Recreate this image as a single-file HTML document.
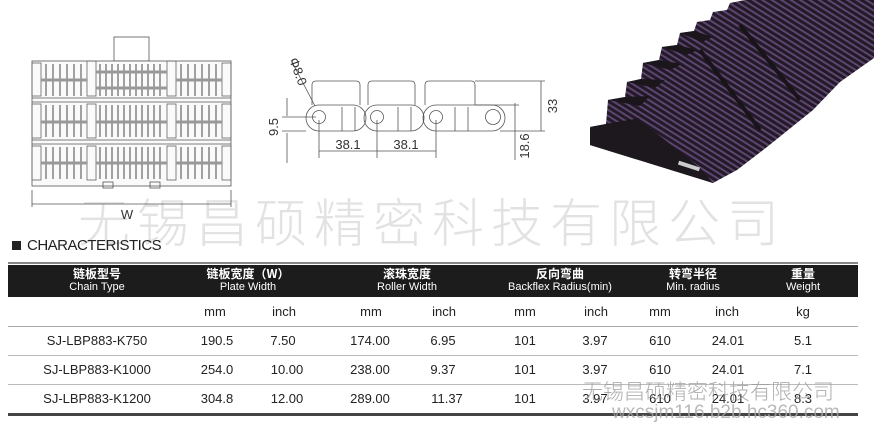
<!DOCTYPE html>
<html><head><meta charset="utf-8"><style>
body{margin:0;width:874px;height:426px;background:#fff;position:relative;overflow:hidden;font-family:"Liberation Sans","Noto Sans CJK SC",sans-serif;}
.a{position:absolute;white-space:nowrap}
.wm{color:#e2e2e2;font-size:52px;letter-spacing:7px;font-family:"Noto Sans CJK SC",sans-serif;font-weight:300;}
.c{position:absolute;transform:translateX(-50%);text-align:center;white-space:nowrap;font-size:13px;color:#222;font-family:"Liberation Sans Narrow","Liberation Sans",sans-serif}
.h{position:absolute;transform:translateX(-50%);text-align:center;color:#fff;font-size:11px;line-height:12px;white-space:nowrap}
.h b{font-family:"Noto Sans CJK SC",sans-serif;font-size:12px}
</style></head><body>
<div class="a wm" style="left:78px;top:182px">无锡昌硕精密科技有限公司</div>

<svg class="a" style="left:0;top:0" width="874" height="260">
<defs>
<pattern id="st" width="5" height="5" patternUnits="userSpaceOnUse" patternTransform="rotate(32)">
<rect width="5" height="5" fill="#221b27"/><rect width="5" height="2" fill="#5e4470"/>
</pattern>
</defs>
<g fill="none" stroke="#555" stroke-width="0.8">
<rect x="114" y="37" width="35" height="24"/>
<rect x="32" y="61" width="199" height="125" fill="#fafafa"/>
<line x1="32" y1="98" x2="231" y2="98"/><line x1="32" y1="102" x2="231" y2="102"/>
<line x1="32" y1="140" x2="231" y2="140"/><line x1="32" y1="144" x2="231" y2="144"/>
<g stroke="#666">
<rect x="32" y="63" width="9" height="33"/><rect x="222" y="63" width="9" height="33"/>
<rect x="32" y="104" width="9" height="34"/><rect x="222" y="104" width="9" height="34"/>
<rect x="32" y="146" width="9" height="34"/><rect x="222" y="146" width="9" height="34"/>
<rect x="87" y="61" width="9" height="35"/><rect x="167" y="61" width="9" height="35"/>
<rect x="87" y="104" width="9" height="34"/><rect x="167" y="104" width="9" height="34"/>
<rect x="87" y="146" width="9" height="34"/><rect x="167" y="146" width="9" height="34"/>
</g>
<g stroke="#666" stroke-width="1.2">
<path d="M46 64v32M53 64v32M60 64v32M67 64v32M74 64v32M81 64v32M100 64v32M106 64v32M112 64v32M118 64v32M124 64v32M130 64v32M136 64v32M142 64v32M148 64v32M154 64v32M160 64v32M181 64v32M188 64v32M195 64v32M202 64v32M209 64v32M216 64v32"/>
<path d="M46 105v32M53 105v32M60 105v32M67 105v32M74 105v32M81 105v32M100 105v32M106 105v32M112 105v32M118 105v32M124 105v32M130 105v32M136 105v32M142 105v32M148 105v32M154 105v32M160 105v32M181 105v32M188 105v32M195 105v32M202 105v32M209 105v32M216 105v32"/>
<path d="M46 147v32M53 147v32M60 147v32M67 147v32M74 147v32M81 147v32M100 147v32M106 147v32M112 147v32M118 147v32M124 147v32M130 147v32M136 147v32M142 147v32M148 147v32M154 147v32M160 147v32M181 147v32M188 147v32M195 147v32M202 147v32M209 147v32M216 147v32"/>
</g>
<path d="M41 80h46M176 80h46M41 122h46M176 122h46M41 163h46M176 163h46M96 72h71M96 88h71M96 122h71M96 163h71" stroke="#999" stroke-width="3"/>
<rect x="103" y="182" width="10" height="6"/><rect x="150" y="182" width="10" height="6"/>
<line x1="32" y1="190" x2="32" y2="207"/><line x1="231" y1="190" x2="231" y2="207"/>
<line x1="32" y1="204" x2="231" y2="204"/>
<!-- side view -->
<g stroke="#555">
<rect x="306" y="105" width="60" height="26" rx="13"/>
<rect x="364" y="105" width="60" height="26" rx="13"/>
<rect x="423" y="105" width="82" height="26" rx="13"/>
<circle cx="319" cy="117" r="6.5"/><circle cx="377" cy="117" r="6.5"/><circle cx="436" cy="117" r="6.5"/><circle cx="493" cy="117" r="7.5"/>
<path d="M312 105v-20q0-4 4-4h40q4 0 4 4v20M368 105v-20q0-4 4-4h39q4 0 4 4v20M425 105v-20q0-4 4-4h42q4 0 4 4v20"/>
<path d="M342 107v24M355 107v24M398 107v24M411 107v24M455 107v24M468 107v24"/>
<path d="M319 120v38M377 120v38M436 120v38M319 151h117"/>
<path d="M287 98v18M287 133v30M282 117h34M282 131h24"/>
<path d="M475 81h70M541 81v50M500 131h45M475 105h44M515 103v57"/>
<line x1="291" y1="60" x2="315" y2="106"/>
</g>
</g>
<g font-family="Liberation Sans" font-size="13" fill="#333">
<text x="127" y="219" text-anchor="middle">W</text>
<text x="348" y="149" text-anchor="middle">38.1</text>
<text x="406" y="149" text-anchor="middle">38.1</text>
<text transform="translate(278,127) rotate(-90)" text-anchor="middle">9.5</text>
<text transform="translate(557,106) rotate(-90)" text-anchor="middle">33</text>
<text transform="translate(529,146) rotate(-90)" text-anchor="middle">18.6</text>
<text transform="translate(294,73) rotate(70)" text-anchor="middle">Φ8.0</text>
</g>
<!-- photo -->
<path d="M590 145 L590 127 L606 124 L608 100 L625 97 L627 82 L641 79 L643 63 L659 60 L662 47 L677 45 L680 33 L694 31 L697 22 L710 20 L713 12 L727 10 L730 3 L745 0 L874 0 L874 58 L840 82 L813 110 L767 147 L737 170 L713 183 Z" fill="url(#st)"/>
<path d="M590 127 L606 124 L640 118 L625 128 Z M608 100 L625 97 L650 96 L640 106 Z M627 82 L641 79 L665 80 L655 88 Z M643 63 L659 60 L682 64 L670 70 Z M662 47 L677 45 L698 50 L686 55 Z M680 33 L694 31 L713 37 L702 42 Z" fill="#1a161c"/>
<path d="M590 145 L590 128 L640 120 L700 168 L713 183 Z" fill="#1c181e"/>
<path d="M700 50 L760 130 M740 25 L800 100" stroke="#18141a" stroke-width="4" fill="none"/>
<rect x="678" y="164" width="22" height="4" fill="#ccc" transform="rotate(18 689 166)"/>
</svg>

<div class="a" style="left:12px;top:237px;font-size:15px;color:#222;letter-spacing:-0.5px"><span style="display:inline-block;width:9px;height:9px;background:#222;margin-right:6px"></span>CHARACTERISTICS</div>

<div class="a" style="left:8px;top:262px;width:850px;height:2px;background:#888"></div>
<div class="a" style="left:8px;top:265px;width:850px;height:32px;background:#1c1c1c"></div>
<div class="h" style="left:97px;top:268px"><b>链板型号</b><br>Chain Type</div>
<div class="h" style="left:248px;top:268px"><b>链板宽度（W）</b><br>Plate Width</div>
<div class="h" style="left:407px;top:268px"><b>滚珠宽度</b><br>Roller Width</div>
<div class="h" style="left:560px;top:268px"><b>反向弯曲</b><br>Backflex Radius(min)</div>
<div class="h" style="left:693px;top:268px"><b>转弯半径</b><br>Min. radius</div>
<div class="h" style="left:803px;top:268px"><b>重量</b><br>Weight</div>

<div class="a" style="left:8px;top:326px;width:850px;height:1px;background:#aaa"></div>
<div class="a" style="left:8px;top:355px;width:850px;height:1px;background:#bbb"></div>
<div class="a" style="left:8px;top:384px;width:850px;height:1px;background:#bbb"></div>
<div class="a" style="left:8px;top:413px;width:850px;height:3px;background:#444"></div>

<div class="c" style="left:215px;top:304px">mm</div><div class="c" style="left:284px;top:304px">inch</div>
<div class="c" style="left:371px;top:304px">mm</div><div class="c" style="left:444px;top:304px">inch</div>
<div class="c" style="left:525px;top:304px">mm</div><div class="c" style="left:596px;top:304px">inch</div>
<div class="c" style="left:660px;top:304px">mm</div><div class="c" style="left:727px;top:304px">inch</div>
<div class="c" style="left:803px;top:304px">kg</div>

<div class="c" style="left:97px;top:333px">SJ-LBP883-K750</div><div class="c" style="left:217px;top:333px">190.5</div><div class="c" style="left:283px;top:333px">7.50</div><div class="c" style="left:370px;top:333px">174.00</div><div class="c" style="left:443px;top:333px">6.95</div><div class="c" style="left:525px;top:333px">101</div><div class="c" style="left:595px;top:333px">3.97</div><div class="c" style="left:660px;top:333px">610</div><div class="c" style="left:728px;top:333px">24.01</div><div class="c" style="left:803px;top:333px">5.1</div>
<div class="c" style="left:97px;top:362px">SJ-LBP883-K1000</div><div class="c" style="left:217px;top:362px">254.0</div><div class="c" style="left:287px;top:362px">10.00</div><div class="c" style="left:370px;top:362px">238.00</div><div class="c" style="left:443px;top:362px">9.37</div><div class="c" style="left:525px;top:362px">101</div><div class="c" style="left:595px;top:362px">3.97</div><div class="c" style="left:660px;top:362px">610</div><div class="c" style="left:728px;top:362px">24.01</div><div class="c" style="left:803px;top:362px">7.1</div>
<div class="c" style="left:97px;top:391px">SJ-LBP883-K1200</div><div class="c" style="left:217px;top:391px">304.8</div><div class="c" style="left:287px;top:391px">12.00</div><div class="c" style="left:370px;top:391px">289.00</div><div class="c" style="left:447px;top:391px">11.37</div><div class="c" style="left:525px;top:391px">101</div><div class="c" style="left:595px;top:391px">3.97</div><div class="c" style="left:660px;top:391px">610</div><div class="c" style="left:728px;top:391px">24.01</div><div class="c" style="left:803px;top:391px">8.3</div>

<div class="a" style="left:582px;top:376px;font-size:21px;color:#9a9a9a;font-family:'Noto Sans CJK SC',sans-serif;font-weight:300;opacity:.8">无锡昌硕精密科技有限公司</div>
<div class="a" style="left:612px;top:402px;font-size:19px;color:#a8a8a8;opacity:.8">wxcsjm116.b2b.hc360.com</div>
</body></html>
